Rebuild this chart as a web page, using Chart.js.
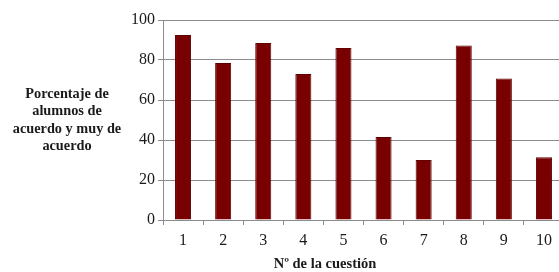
<!DOCTYPE html>
<html>
<head>
<meta charset="utf-8">
<script src="https://cdn.jsdelivr.net/npm/chart.js@4"></script>
<style>
  body { margin: 0; overflow: hidden; background: #fff; width: 559px; height: 272px; position: relative; }
  #wrap { position: absolute; left: 0; top: 0; width: 564px; height: 272px; }
  .title { position: absolute; font-family: 'Liberation Serif', serif; font-weight: bold; color: #1a1a1a; text-align: center; }
  #yTitle { left: 6px; top: 85px; width: 122px; font-size: 14.3px; line-height: 17.3px; }
  #xTitle { left: 245px; top: 255px; width: 160px; font-size: 14.5px; }
</style>
</head>
<body>
<div id="wrap"><canvas id="chart"></canvas></div>
<div class="title" id="yTitle">Porcentaje de<br>alumnos de<br>acuerdo y muy de<br>acuerdo</div>
<div class="title" id="xTitle">Nº de la cuestión</div>
<script>
const questions = ['1', '2', '3', '4', '5', '6', '7', '8', '9', '10'];
const percentages = [92.5, 78.5, 88.5, 73, 86, 41.5, 30, 87.3, 70.7, 31.4];
const yTicks = [0, 20, 40, 60, 80, 100];

window.onload = function () {
    const ctx = document.getElementById('chart').getContext('2d');
    new Chart(ctx, {
        type: 'bar',
        data: {
            labels: questions,
            datasets: [{
                data: percentages,
                backgroundColor: '#780000',
                borderColor: '#600000',
                borderWidth: 1,
                categoryPercentage: 1,
                barPercentage: 0.4
            }]
        },
        options: {
            responsive: true,
            maintainAspectRatio: false,
            animation: false,
            layout: { padding: { top: 20, right: 0, left: 0, bottom: 0 } },
            plugins: { legend: { display: false }, tooltip: { enabled: false } },
            scales: {
                x: {
                    grid: { offset: true, drawOnChartArea: false, drawTicks: true, tickLength: 5, color: '#8c8c8c' },
                    border: { color: '#8c8c8c' },
                    ticks: { font: { family: 'Liberation Serif', size: 16 }, color: '#1a1a1a', padding: 6, maxRotation: 0 },
                    afterFit: function (scale) { scale.height = 52; }
                },
                y: {
                    min: 0,
                    max: 100,
                    afterBuildTicks: function (scale) { scale.ticks = yTicks.map(v => ({ value: v })); },
                    grid: { color: '#8c8c8c', tickLength: 5, lineWidth: 1 },
                    border: { color: '#8c8c8c' },
                    ticks: { font: { family: 'Liberation Serif', size: 16 }, color: '#1a1a1a', padding: 3 },
                    afterFit: function (scale) { scale.width = 163; }
                }
            }
        }
    });
};
</script>
</body>
</html>
